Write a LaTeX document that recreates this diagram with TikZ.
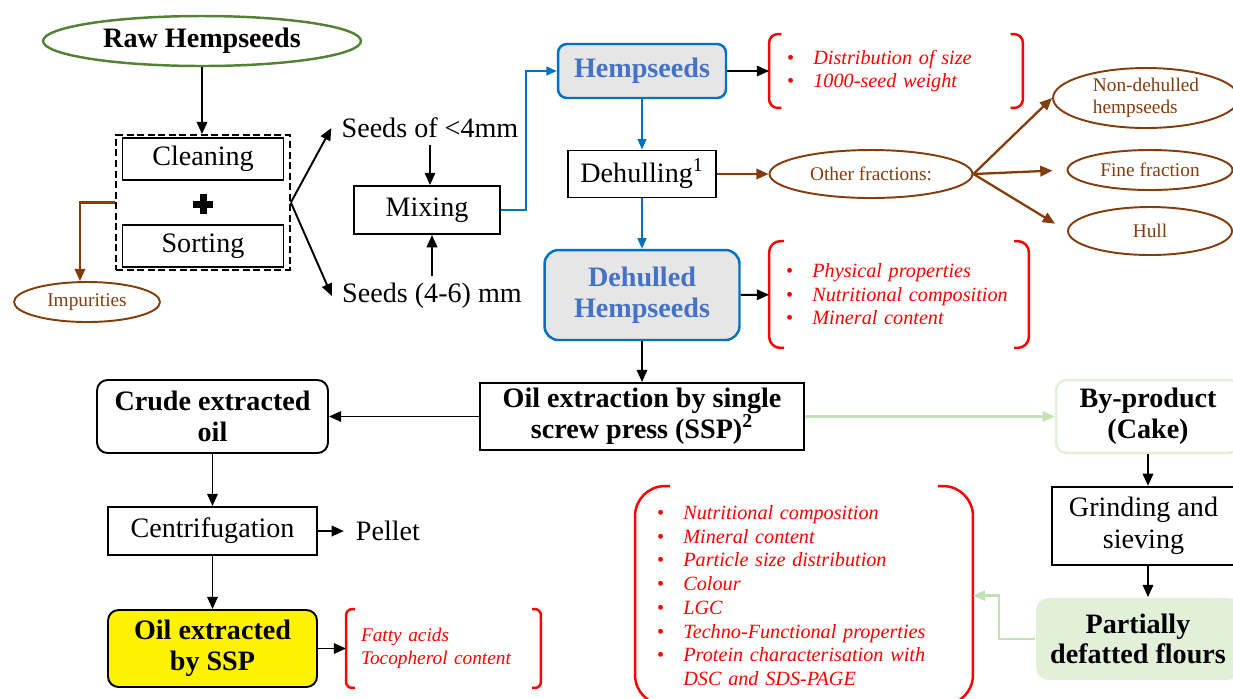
\documentclass[tikz,border=0pt]{standalone}
\usepackage{fontspec}
\setmainfont{Liberation Serif}
\usetikzlibrary{shapes.geometric,arrows.meta,fit}
\definecolor{leaf}{HTML}{548235}
\definecolor{bark}{HTML}{843C0C}
\definecolor{sea}{HTML}{0070C0}
\definecolor{ink}{HTML}{4472C4}
\definecolor{mist}{HTML}{E7E6E6}
\definecolor{sage}{HTML}{C5E0B4}
\definecolor{pale}{HTML}{E2F0D9}
\newcommand{\bul}{\makebox[15pt][l]{\upshape\textbullet}}

\begin{document}
\begin{tikzpicture}[x=0.02cm,y=-0.02cm,line width=1.1pt,
  >={Triangle[length=7pt,width=6pt]},
  box/.style={draw,rectangle,align=center,inner sep=0pt,font=\fontsize{16}{18.5}\selectfont},
  bbox/.style={box,font=\fontsize{16}{17.5}\selectfont\bfseries},
  seedbox/.style={bbox,draw=sea,line width=1.4pt,fill=mist,text=ink},
  oval/.style={draw=bark,ellipse,text=bark,inner sep=0pt,align=left,font=\fontsize{11}{12.5}\selectfont},
  plain/.style={font=\fontsize{16}{18.5}\selectfont},
  redlist/.style={rectangle,text=red,inner ysep=0pt,align=left,font=\fontsize{11.5}{13.4}\selectfont\itshape},
  bracket/.style={draw=red,line width=1.4pt},
  brownarrow/.style={->,draw=bark,line width=1.3pt},
  bluearrow/.style={->,draw=sea,line width=1.1pt,>={Triangle[length=6pt,width=5pt]}},
  greenarrow/.style={->,draw=sage,line width=1.3pt}]

\useasboundingbox (0,0) rectangle (1233,698);

\node[ellipse,draw=leaf,line width=1.4pt,minimum width=6.36cm,minimum height=1cm,inner sep=0pt,font=\fontsize{16}{18}\selectfont\bfseries] (raw) at (202,41) {Raw Hempseeds};

\node[box,minimum width=3.22cm,minimum height=0.84cm] (clean) at (203,159) {Cleaning};
\node[box,minimum width=3.22cm,minimum height=0.84cm] (sort) at (203,246) {Sorting};
\node[draw,dashed,dash pattern=on 4pt off 2pt,line width=1.3pt,fit=(clean)(sort),inner xsep=3pt,inner ysep=1pt] (group) {};
\fill (193,200.5) rectangle (213,207.5);
\fill (199.5,194) rectangle (206.5,214);

\node[oval,minimum width=2.92cm,minimum height=0.8cm] (imp) at (87,302) {Impurities};

\node[plain] (seedsA) at (430,128) {Seeds of <4mm};
\node[plain] (seedsB) at (432,296) {Seeds (4-6) mm};
\node[box,minimum width=2.92cm,minimum height=0.96cm] (mix) at (427,210) {Mixing};

\node[seedbox,rounded corners=5pt,minimum width=3.36cm,minimum height=1.08cm] (hemp) at (642,71) {Hempseeds};
\node[box,minimum width=2.96cm,minimum height=0.94cm] (dehull) at (642,174) {Dehulling\textsuperscript{1}};
\node[seedbox,rounded corners=8pt,minimum width=3.9cm,minimum height=1.8cm] (dehulled) at (642,295) {Dehulled\\Hempseeds};

\node[redlist,minimum width=5.04cm,minimum height=1.44cm,inner xsep=0.34cm,text width=4.36cm] (brA) at (896,71)
  {\bul Distribution of size\\ \bul 1000-seed weight};
\node[redlist,minimum width=5.16cm,minimum height=2.1cm,inner xsep=0.32cm,text width=4.52cm] (brB) at (899,294.5)
  {\bul Physical properties\\ \bul Nutritional composition\\ \bul Mineral content};

\node[oval,minimum width=4.06cm,minimum height=0.96cm] (other) at (871,174) {Other fractions:};
\node[oval,minimum width=3.72cm,minimum height=1.2cm] (nondeh) at (1146,98) {Non-dehulled\\hempseeds};
\node[oval,minimum width=3.3cm,minimum height=0.8cm] (fine) at (1150,170) {Fine fraction};
\node[oval,minimum width=3.28cm,minimum height=0.96cm] (hull) at (1150,231) {Hull};

\node[bbox,minimum width=6.48cm,minimum height=1.34cm] (press) at (642,416.5) {Oil extraction by single\\screw press (SSP)\textsuperscript{2}};
\node[bbox,rounded corners=6pt,minimum width=4.62cm,minimum height=1.46cm] (crude) at (212.5,416.5) {Crude extracted\\oil};
\node[box,minimum width=4.18cm,minimum height=0.96cm] (centri) at (212.5,531) {Centrifugation};
\node[plain] (pellet) at (388,531) {Pellet};
\node[bbox,rounded corners=6pt,fill=yellow,minimum width=4.18cm,minimum height=1.54cm] (oilssp) at (212.5,648.5) {Oil extracted\\by SSP};
\node[redlist,minimum width=3.86cm,minimum height=1.54cm,inner xsep=0.28cm,text width=3.3cm,font=\fontsize{11}{13}\selectfont\itshape] (brD) at (443.5,648.5)
  {Fatty acids\\Tocopherol content};

\node[bbox,rounded corners=6pt,draw=pale,line width=1.4pt,minimum width=3.68cm,minimum height=1.46cm] (cake) at (1148,416.5) {By-product\\(Cake)};
\node[box,line width=1.3pt,minimum width=3.66cm,minimum height=1.56cm] (grind) at (1143.5,526) {Grinding and\\sieving};
\node[bbox,draw=none,fill=pale,rounded corners=7pt,minimum width=4.08cm,minimum height=1.64cm] (flour) at (1138,639) {Partially\\defatted flours};
\node[redlist,minimum width=6.72cm,minimum height=4.34cm,inner xsep=0.42cm,text width=5.88cm,font=\fontsize{11.5}{13.5}\selectfont\itshape] (brC) at (804,595.5)
  {\bul Nutritional composition\\ \bul Mineral content\\ \bul Particle size distribution\\ \bul Colour\\ \bul LGC\\
   \bul Techno-Functional properties\\ \bul Protein characterisation with\\ \hspace*{15pt}DSC and SDS-PAGE};

\foreach \b/\a/\r in {brA/7pt/5pt,brB/8.5pt/6.5pt,brC/20pt/17pt,brD/5pt/3.5pt} {
  \draw[bracket,rounded corners=\r] ([xshift=\a]\b.north west) -- (\b.north west) -- (\b.south west) -- ([xshift=\a]\b.south west);
  \draw[bracket,rounded corners=\r] ([xshift=-\a]\b.north east) -- (\b.north east) -- (\b.south east) -- ([xshift=-\a]\b.south east);
}

\draw[->] (raw.south) -- (raw.south |- group.north);
\draw[->,draw=bark,line width=1.3pt] (group.west) -| ([xshift=-4pt]imp.north);
\draw[->] (group.east) -- ([xshift=-2pt]seedsA.west);
\draw[->] (group.east) -- ([xshift=-2pt]seedsB.west);
\draw[->] (seedsA.south) -- (seedsA.south |- mix.north);
\draw[->] (seedsB.north) -- (seedsB.north |- mix.south);
\draw[bluearrow] (mix.east) -- ++(25,0) |- (hemp.west);
\draw[bluearrow] (hemp) -- (dehull);
\draw[bluearrow] (dehull) -- (dehulled);
\draw[->] (hemp) -- (brA);
\draw[->] (dehulled) -- (brB);
\draw[brownarrow] (dehull) -- (other);
\draw[brownarrow] (other.east) -- (nondeh.west);
\draw[brownarrow,shorten >=8pt] (other.east) -- (fine.west);
\draw[brownarrow,shorten >=8pt] (other.east) -- (hull.west);
\draw[->] (dehulled) -- (press);
\draw[->] (press) -- (crude);
\draw[greenarrow] (press) -- (cake);
\draw[->] (cake) -- (cake |- grind.north);
\draw[->] (grind.south -| cake) -- (cake |- flour.north);
\draw[greenarrow] (flour.west) -- ++(-36,0) |- (brC.east);
\draw[->] (crude) -- (centri);
\draw[->,shorten >=3pt] (centri) -- (pellet);
\draw[->] (centri) -- (oilssp);
\draw[->] (oilssp) -- (brD);

\end{tikzpicture}
\end{document}
